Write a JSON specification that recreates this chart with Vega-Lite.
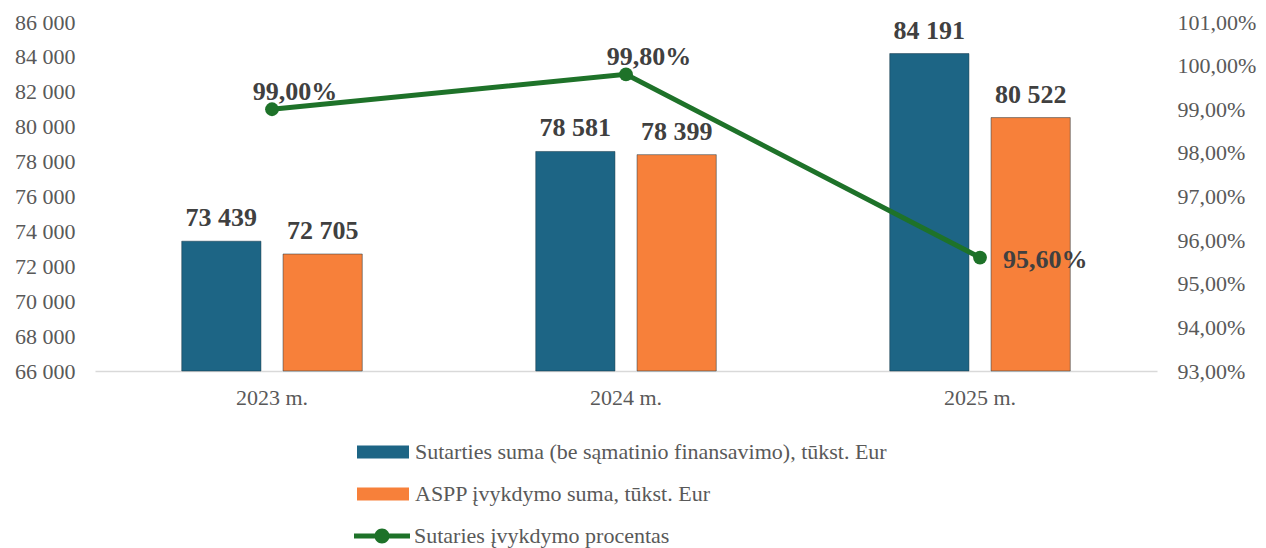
{
  "$schema": "https://vega.github.io/schema/vega-lite/v6.json",
  "width": 1062,
  "height": 349,
  "autosize": {"type": "none"},
  "padding": {"left": 95, "top": 22, "right": 109, "bottom": 177},
  "background": "white",
  "config": {
    "view": {"stroke": null},
    "locale": {"number": {"decimal": ",", "thousands": " ", "grouping": [3], "currency": ["", " €"], "percent": "%"}},
    "font": "Liberation Serif",
    "axis": {"labelFont": "Liberation Serif", "labelFontSize": 22, "labelColor": "#595959", "grid": false, "ticks": false, "title": null},
    "legend": {"labelFont": "Liberation Serif", "labelFontSize": 22, "labelColor": "#595959", "padding": 0}
  },
  "datasets": {
    "bars": [
      {"year": "2023 m.", "series": "Sutarties suma (be sąmatinio finansavimo), tūkst. Eur", "value": 73439},
      {"year": "2023 m.", "series": "ASPP įvykdymo suma, tūkst. Eur", "value": 72705},
      {"year": "2024 m.", "series": "Sutarties suma (be sąmatinio finansavimo), tūkst. Eur", "value": 78581},
      {"year": "2024 m.", "series": "ASPP įvykdymo suma, tūkst. Eur", "value": 78399},
      {"year": "2025 m.", "series": "Sutarties suma (be sąmatinio finansavimo), tūkst. Eur", "value": 84191},
      {"year": "2025 m.", "series": "ASPP įvykdymo suma, tūkst. Eur", "value": 80522}
    ],
    "line": [
      {"year": "2023 m.", "name": "Sutaries įvykdymo procentas", "pct": 0.99},
      {"year": "2024 m.", "name": "Sutaries įvykdymo procentas", "pct": 0.998},
      {"year": "2025 m.", "name": "Sutaries įvykdymo procentas", "pct": 0.956}
    ]
  },
  "encoding": {
    "x": {
      "field": "year", "type": "nominal", "sort": null,
      "scale": {"paddingInner": 0.49, "paddingOuter": 0.245},
      "axis": {"labelAngle": 0, "domainColor": "#d9d9d9", "domainWidth": 1.5, "labelPadding": 16, "labelFont": "Liberation Serif", "labelFontSize": 22, "labelColor": "#595959"}
    }
  },
  "resolve": {"scale": {"y": "independent"}},
  "layer": [
    {
      "data": {"name": "bars"},
      "encoding": {
        "y": {
          "field": "value", "type": "quantitative",
          "scale": {"domain": [66000, 86000], "zero": false, "nice": false},
          "axis": {"orient": "left", "values": [66000, 68000, 70000, 72000, 74000, 76000, 78000, 80000, 82000, 84000, 86000], "format": ",d", "domain": false, "labelPadding": 20, "labelFont": "Liberation Serif", "labelFontSize": 22, "labelColor": "#595959"}
        },
        "xOffset": {"field": "series", "type": "nominal", "sort": null, "scale": {"paddingInner": 0.218, "paddingOuter": 0}}
      },
      "layer": [
        {
          "mark": {"type": "bar", "stroke": "#0f2f40", "strokeWidth": 0.8, "strokeOpacity": 0.6},
          "encoding": {
            "y2": {"datum": 66000},
            "fill": {
              "field": "series", "type": "nominal", "sort": null,
              "scale": {
                "domain": ["Sutarties suma (be sąmatinio finansavimo), tūkst. Eur", "ASPP įvykdymo suma, tūkst. Eur"],
                "range": ["#1d6585", "#f7803a"]
              },
              "legend": {
                "title": null, "orient": "none", "direction": "vertical",
                "legendX": 277, "legendY": 419,
                "symbolType": "M-2.6,-0.65H2.6V0.65H-2.6Z",
                "symbolSize": 400, "symbolStrokeWidth": 0, "symbolOpacity": 1,
                "labelOffset": 21, "rowPadding": 20, "labelLimit": 600,
                "labelFont": "Liberation Serif", "labelFontSize": 22, "labelColor": "#595959"
              }
            }
          }
        },
        {
          "mark": {"type": "text", "font": "Liberation Serif", "fontSize": 26, "fontWeight": "bold", "color": "#404040", "baseline": "alphabetic", "dy": -15},
          "encoding": {
            "text": {"field": "value", "type": "quantitative", "format": ",d"}
          }
        }
      ]
    },
    {
      "data": {"name": "line"},
      "encoding": {
        "y": {
          "field": "pct", "type": "quantitative",
          "scale": {"domain": [0.93, 1.01], "zero": false, "nice": false},
          "axis": {"orient": "right", "values": [0.93, 0.94, 0.95, 0.96, 0.97, 0.98, 0.99, 1.0, 1.01], "format": ".2%", "domain": false, "labelPadding": 20, "labelFont": "Liberation Serif", "labelFontSize": 22, "labelColor": "#595959"}
        }
      },
      "layer": [
        {
          "mark": {"type": "line", "color": "#1e7229", "strokeWidth": 5}
        },
        {
          "mark": {"type": "point", "filled": true, "size": 190, "opacity": 1},
          "encoding": {
            "color": {
              "field": "name", "type": "nominal",
              "scale": {"range": ["#1e7229"]},
              "legend": {
                "title": null, "orient": "none", "direction": "vertical",
                "legendX": 276, "legendY": 503,
                "symbolType": "M-2.8,-0.25H2.8V0.25H-2.8Z M-0.75,0A0.75,0.75 0 1,1 0.75,0A0.75,0.75 0 1,1 -0.75,0Z",
                "symbolSize": 400, "symbolStrokeWidth": 0, "symbolOpacity": 1,
                "labelOffset": 21, "labelLimit": 600,
                "labelFont": "Liberation Serif", "labelFontSize": 22, "labelColor": "#595959"
              }
            }
          }
        },
        {
          "transform": [{"filter": "datum.year !== '2025 m.'"}],
          "mark": {"type": "text", "font": "Liberation Serif", "fontSize": 26, "fontWeight": "bold", "color": "#404040", "baseline": "alphabetic", "align": "center", "dx": 23, "dy": -9},
          "encoding": {"text": {"field": "pct", "type": "quantitative", "format": ".2%"}}
        },
        {
          "transform": [{"filter": "datum.year === '2025 m.'"}],
          "mark": {"type": "text", "font": "Liberation Serif", "fontSize": 26, "fontWeight": "bold", "color": "#404040", "baseline": "middle", "align": "left", "dx": 23, "dy": 2},
          "encoding": {"text": {"field": "pct", "type": "quantitative", "format": ".2%"}}
        }
      ]
    }
  ]
}
